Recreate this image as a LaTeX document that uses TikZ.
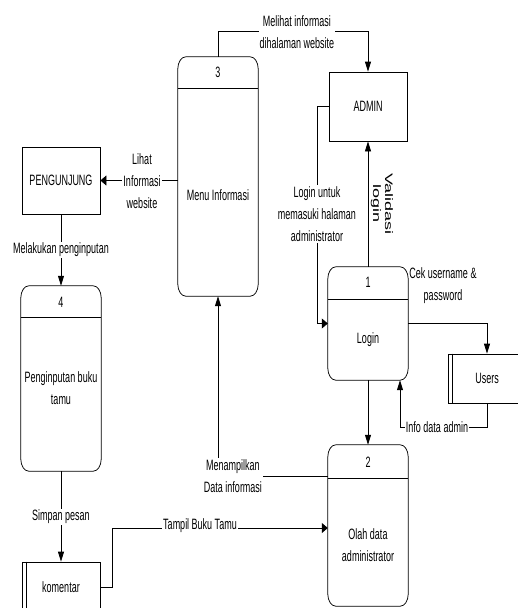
\documentclass[tikz,border=0pt]{standalone}
\usepackage{fontspec}
\setmainfont{Liberation Sans}[FakeStretch=0.6]
\newfontfamily\rotfont{Liberation Sans}
\usetikzlibrary{arrows.meta,calc}
\tikzset{
 every node/.style={font=\fontsize{15}{22}\selectfont, inner sep=0pt},
 ln/.style={line width=0.75pt, draw=black},
 arrv/.style={ln, -{Triangle[length=10pt,width=6pt]}},
 arrh/.style={ln, -{Triangle[length=6pt,width=10pt]}},
 procbase/.style={rectangle, draw=none, inner sep=0pt},
 entity/.style={rectangle, draw, line width=0.75pt, inner sep=0pt},
 store/.style={rectangle, draw, line width=0.75pt, inner sep=0pt},
 lbl/.style={fill=white, align=center, inner sep=1pt},
 txt/.style={align=center},
 divl/.style={line width=1.2pt},
}
\newcommand\procoutline[1]{%
\draw[ln] ([yshift=-12pt]#1.north west) .. controls ([yshift=-5.4pt]#1.north west) and ([xshift=3.6pt]#1.north west) .. ([xshift=8pt]#1.north west) -- ([xshift=-8pt]#1.north east) .. controls ([xshift=-3.6pt]#1.north east) and ([yshift=-5.4pt]#1.north east) .. ([yshift=-12pt]#1.north east) -- ([yshift=12pt]#1.south east) .. controls ([yshift=5.4pt]#1.south east) and ([xshift=-3.6pt]#1.south east) .. ([xshift=-8pt]#1.south east) -- ([xshift=8pt]#1.south west) .. controls ([xshift=3.6pt]#1.south west) and ([yshift=5.4pt]#1.south west) .. ([yshift=12pt]#1.south west) -- cycle;}
\begin{document}
\begin{tikzpicture}[x=1pt,y=-1pt]
\useasboundingbox (0,0) rectangle (518,608);
% processes
\node[procbase, minimum width=80pt, minimum height=239pt] (p3) at (218,176.5) {};
\node[procbase, minimum width=80pt, minimum height=113pt] (p1) at (368,323.5) {};
\node[procbase, minimum width=80pt, minimum height=161pt] (p2) at (368,525.5) {};
\node[procbase, minimum width=80pt, minimum height=185pt] (p4) at (61,378.5) {};
\procoutline{p3}
\procoutline{p1}
\procoutline{p2}
\procoutline{p4}
\draw[divl] ([yshift=-32pt]p3.north west) -- ([yshift=-32pt]p3.north east);
\draw[divl] ([yshift=-33pt]p1.north west) -- ([yshift=-33pt]p1.north east);
\draw[divl] ([yshift=-34pt]p2.north west) -- ([yshift=-34pt]p2.north east);
\draw[divl] ([yshift=-32pt]p4.north west) -- ([yshift=-32pt]p4.north east);
\node (p3n) at ([yshift=-16pt]p3.north) {3};
\node (p3t) at (218,195) {Menu Informasi};
\node (p1n) at ([yshift=-16pt]p1.north) {1};
\node (p1t) at (368,340) {Login};
\node (p2n) at ([yshift=-17pt]p2.north) {2};
\node[txt] (p2t) at (368,545) {Olah data\\administrator};
\node (p4n) at ([yshift=-17pt]p4.north) {4};
\node[txt] (p4t) at (61,388) {Penginputan buku\\tamu};
% entities
\node[entity, minimum width=78pt, minimum height=69pt] (admin) at (368,106.5) {ADMIN};
\node[entity, minimum width=78pt, minimum height=67pt] (peng) at (61,180.5) {PENGUNJUNG};
% stores
\node[store, minimum width=78pt, minimum height=49pt] (users) at (487,378.5) {Users};
\draw[ln] ([xshift=5pt]users.north west) -- ([xshift=5pt]users.south west);
\node[store, minimum width=78pt, minimum height=50pt] (kom) at (61,587) {komentar};
\draw[ln] ([xshift=5pt]kom.north west) -- ([xshift=5pt]kom.south west);
% connectors
\draw[arrv] (p3.north) -- ++(0,-25) -| (admin.north);
\node[lbl] (l1) at (297,32) {Melihat informasi\\dihalaman website};
\draw[arrh] (p3.west |- peng.east) -- (peng.east);
\node[lbl] (l2) at (142,181) {Lihat\\Informasi\\website};
\draw[arrv] (peng.south) -- (p4.north);
\node[lbl] (l3) at (61,250) {Melakukan penginputan};
\draw[arrv] (p4.south) -- (kom.north);
\node[lbl] (l4) at (61,517) {Simpan pesan};
\coordinate (k2) at (112,528);
\draw[arrh] (kom.east) -| (k2) -- (k2 -| p2.west);
\node[lbl] (l5) at (200,526) {Tampil Buku Tamu};
\coordinate (k3) at (218,476);
\draw[arrv] (k3 -| p2.west) -- (k3) -- (k3 |- p3.south);
\node[lbl] (l6) at (233,476) {Menampilkan\\Data informasi};
\coordinate (k1) at (317,323.5);
\draw[arrh] (admin.west) -| (k1) -- (p1.west);
\node[lbl] (l7) at (317,214) {Login untuk\\memasuki halaman\\administrator};
\draw[arrv] (p1.north) -- (admin.south);
\begin{scope}[shift={(382,204)}, xscale=0.6]
\node[transform shape, rotate=-90, align=center, font=\rotfont\fontsize{18}{20}\selectfont] (l8) at (0,0) {Validasi\\login};
\end{scope}
\draw[arrv] (p1.east) -| (users.north);
\node[txt] (l9) at (443,286) {Cek username \&\\password};
\coordinate (k4) at (400,427);
\draw[arrv] (users.south) |- (k4) -- (k4 |- p1.south);
\node[lbl] (l10) at (437,427) {Info data admin};
\draw[arrv] (p1.south) -- (p2.north);
\end{tikzpicture}
\end{document}
